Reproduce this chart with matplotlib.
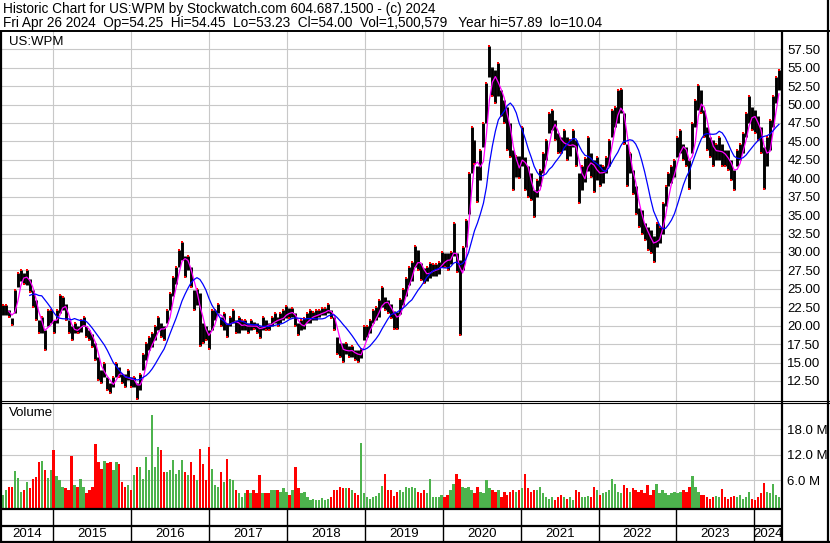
import matplotlib
matplotlib.use('Agg')
import matplotlib.pyplot as plt
import numpy as np
import pandas as pd

plt.rcParams['font.family'] = ['Liberation Sans', 'DejaVu Sans']

# two-week bars, low / high (US$)
lo = [21.4, 21.4, 21.2, 20.1, 21.7, 25.3, 26.0, 25.7, 25.5, 24.6,
      22.6, 20.8, 19.0, 19.0, 16.7, 19.9, 20.3, 19.0, 20.3, 21.7,
      22.1, 20.8, 19.0, 18.0, 19.0, 19.0, 19.2, 19.9, 18.5, 18.0,
      17.1, 15.3, 12.6, 12.2, 13.1, 11.3, 10.8, 11.7, 13.1, 13.1,
      12.2, 11.7, 12.6, 11.7, 11.7, 10.0, 11.3, 14.0, 15.3, 16.7,
      17.1, 18.0, 19.4, 18.5, 18.0, 20.3, 22.1, 24.0, 25.7, 28.0,
      28.9, 26.6, 27.5, 25.3, 22.1, 22.8, 17.2, 17.6, 18.0, 16.9,
      19.4, 20.8, 21.7, 19.9, 19.4, 18.5, 19.9, 20.3, 19.0, 19.0,
      19.4, 19.4, 19.0, 19.4, 19.6, 19.0, 18.3, 19.4, 19.4, 19.4,
      19.9, 20.3, 19.9, 20.3, 20.8, 21.0, 21.0, 21.2, 19.9, 18.7,
      19.4, 19.6, 20.3, 20.3, 20.8, 20.8, 21.2, 21.4, 21.4, 21.7,
      21.0, 19.4, 16.2, 15.8, 15.1, 16.2, 15.8, 15.8, 15.3, 15.1,
      15.6, 18.1, 18.5, 19.0, 20.3, 20.8, 21.2, 22.6, 22.1, 21.7,
      21.0, 19.6, 19.6, 21.6, 22.8, 24.0, 25.5, 26.0, 28.0, 27.5,
      26.2, 25.8, 26.0, 26.5, 26.8, 26.8, 27.0, 28.0, 28.0, 27.6,
      28.3, 29.4, 27.3, 18.7, 27.5, 30.7, 35.2, 40.7, 42.0, 36.8,
      39.8, 44.3, 47.5, 53.8, 51.1, 50.2, 51.1, 48.4, 47.5, 43.8,
      42.9, 38.4, 40.2, 40.0, 41.6, 38.4, 37.5, 37.1, 34.8, 37.5,
      38.9, 40.7, 42.5, 46.1, 46.6, 45.2, 43.4, 43.4, 43.8, 42.5,
      43.0, 44.3, 41.6, 36.6, 38.4, 39.5, 41.0, 40.2, 38.2, 39.8,
      38.9, 39.3, 40.7, 41.6, 45.6, 47.0, 47.5, 48.8, 44.7, 38.9,
      40.7, 37.9, 35.2, 33.4, 32.5, 31.6, 30.3, 29.8, 28.7, 30.7,
      31.2, 32.5, 36.2, 38.9, 39.3, 40.2, 42.9, 43.4, 42.5, 41.6,
      38.6, 43.4, 47.0, 49.3, 48.8, 45.6, 43.8, 42.9, 41.6, 42.5,
      42.5, 41.6, 41.6, 41.1, 39.8, 38.4, 41.6, 42.5, 43.4, 45.6,
      47.5, 46.6, 46.1, 45.2, 43.4, 38.6, 41.6, 43.8, 47.0, 50.2,
      52.0]
hi = [22.8, 22.8, 22.1, 21.0, 24.8, 27.1, 27.6, 27.1, 27.6, 26.4,
      24.8, 23.5, 20.8, 21.2, 19.4, 22.1, 22.1, 20.8, 22.1, 24.2,
      23.9, 23.0, 20.8, 19.9, 20.3, 19.9, 20.8, 21.2, 19.9, 19.4,
      18.9, 17.6, 15.8, 14.0, 14.9, 13.1, 12.2, 13.1, 14.9, 14.4,
      13.5, 13.5, 14.0, 13.1, 13.1, 12.2, 13.5, 16.2, 17.6, 18.5,
      19.0, 19.9, 21.2, 20.3, 20.0, 22.1, 24.4, 26.6, 28.0, 30.3,
      31.4, 29.4, 29.4, 28.0, 24.8, 25.0, 24.4, 20.3, 19.9, 19.4,
      22.1, 22.1, 23.0, 21.2, 21.7, 20.3, 21.2, 22.1, 20.8, 21.2,
      20.8, 20.8, 20.3, 20.8, 20.5, 20.3, 19.9, 21.2, 20.8, 20.3,
      21.2, 21.7, 21.2, 21.7, 22.1, 22.7, 22.4, 22.4, 21.7, 20.3,
      20.8, 21.0, 21.7, 22.1, 21.9, 22.1, 22.1, 22.4, 22.4, 23.0,
      22.1, 21.2, 18.5, 17.6, 17.6, 17.6, 17.2, 17.2, 16.7, 16.7,
      16.9, 19.9, 19.9, 20.8, 22.1, 22.6, 23.5, 25.3, 23.9, 23.5,
      23.0, 22.0, 21.8, 23.6, 25.0, 26.5, 28.0, 28.7, 30.8, 30.3,
      28.5, 27.8, 28.0, 28.5, 28.3, 28.3, 28.7, 30.0, 29.8, 29.8,
      30.0, 33.9, 29.8, 28.9, 30.7, 34.3, 40.7, 47.0, 45.2, 41.6,
      43.8, 47.5, 52.9, 57.9, 55.1, 54.7, 55.6, 52.0, 50.6, 49.7,
      47.5, 43.8, 43.0, 43.0, 47.0, 42.9, 41.6, 40.7, 38.4, 39.8,
      41.1, 43.4, 45.2, 48.8, 49.3, 47.9, 46.1, 45.6, 46.6, 45.6,
      45.2, 46.6, 45.2, 40.7, 41.6, 42.8, 45.6, 43.4, 42.5, 42.9,
      42.0, 41.6, 42.9, 45.2, 49.3, 49.7, 52.0, 52.1, 48.8, 44.7,
      43.4, 41.1, 38.9, 36.0, 35.7, 33.9, 33.4, 33.0, 32.1, 33.9,
      33.4, 36.6, 38.9, 40.7, 41.6, 42.5, 45.6, 46.6, 44.7, 44.3,
      42.5, 47.5, 50.6, 52.7, 52.0, 49.3, 47.0, 45.6, 45.2, 44.7,
      45.6, 44.7, 43.8, 43.8, 42.5, 41.1, 43.8, 44.7, 46.1, 48.8,
      51.1, 49.7, 49.3, 48.4, 47.0, 44.3, 45.6, 47.9, 51.1, 53.8,
      54.7]
# volume per bar, millions of shares
vol = [2.5, 3.7, 4.5, 4.5, 8.1, 6.6, 3.3, 3.7, 5.6, 4.1,
       6.2, 6.8, 10.3, 10.4, 8.3, 6.6, 8.5, 13.0, 6.9, 6.0,
       4.5, 4.1, 3.7, 11.6, 4.8, 4.5, 6.4, 4.5, 2.9, 3.7,
       4.5, 14.5, 10.3, 8.7, 10.4, 10.0, 10.3, 8.3, 10.3, 9.9,
       5.6, 4.5, 4.8, 3.7, 7.2, 9.1, 9.1, 6.4, 11.4, 8.3,
       21.4, 9.1, 13.8, 13.0, 7.9, 7.9, 8.3, 10.7, 7.5, 8.3,
       10.7, 7.9, 7.2, 10.3, 7.2, 6.0, 13.4, 9.7, 6.0, 13.9,
       8.7, 4.8, 4.5, 7.9, 5.6, 11.0, 6.4, 6.0, 3.7, 2.9,
       2.1, 2.9, 3.7, 2.9, 3.7, 2.9, 7.2, 2.9, 2.9, 2.9,
       3.7, 3.7, 3.7, 3.3, 4.1, 3.3, 2.5, 3.7, 9.1, 4.1,
       2.9, 3.3, 2.1, 1.4, 1.7, 1.4, 1.4, 1.9, 1.4, 1.7,
       2.1, 3.7, 3.7, 4.5, 4.1, 4.1, 4.1, 3.7, 2.9, 2.5,
       14.8, 2.9, 2.1, 1.7, 2.1, 2.3, 2.9, 4.6, 7.5, 3.7,
       3.7, 2.3, 3.3, 3.7, 3.3, 4.5, 4.1, 4.5, 4.1, 3.3,
       2.9, 3.7, 2.9, 6.4, 2.1, 2.1, 2.1, 2.5, 2.1, 2.5,
       3.7, 5.2, 7.5, 6.4, 4.5, 4.1, 4.5, 3.7, 2.9, 4.5,
       3.3, 2.9, 6.0, 4.1, 3.7, 3.3, 3.7, 2.1, 3.3, 2.5,
       3.3, 3.7, 3.3, 3.7, 4.1, 7.5, 4.1, 3.3, 3.7, 3.7,
       4.5, 2.9, 2.1, 1.7, 2.1, 1.4, 2.1, 2.5, 2.1, 1.7,
       2.1, 1.4, 3.7, 3.3, 2.1, 2.1, 2.3, 2.1, 4.5, 3.7,
       2.5, 2.9, 3.3, 3.7, 6.2, 5.2, 3.3, 2.9, 4.8, 4.1,
       3.3, 4.1, 3.7, 3.3, 3.7, 2.9, 4.8, 2.5, 3.7, 5.2,
       2.9, 3.7, 2.9, 2.5, 2.9, 3.3, 2.9, 3.3, 3.7, 3.3,
       4.5, 6.9, 4.5, 3.3, 2.5, 2.5, 2.1, 1.7, 2.1, 2.3,
       2.1, 3.9, 2.1, 1.7, 2.1, 2.3, 2.1, 2.5, 1.7, 2.1,
       3.3, 1.7, 1.4, 2.1, 2.9, 5.4, 3.3, 2.9, 5.2, 2.5,
       2.1]

price_ticks = np.arange(12.5, 57.51, 2.5)
vol_ticks = [6, 12, 18]
years = list(range(2014, 2025))

title1 = 'Historic Chart for US:WPM by Stockwatch.com 604.687.1500 - (c) 2024'
title2 = ('Fri Apr 26 2024  Op=54.25  Hi=54.45  Lo=53.23  Cl=54.00  '
          'Vol=1,500,579   Year hi=57.89  lo=10.04')

dates = pd.date_range(end='2024-04-26', periods=len(lo), freq='14D')
lo = np.array(lo)
hi = np.array(hi)
mid = pd.Series((lo + hi) / 2, index=dates)
ma_fast = mid.rolling(3).mean()
ma_slow = mid.rolling(10).mean()
up = np.r_[True, np.diff(mid.values) >= 0]

W, H = 830, 543
fig = plt.figure(figsize=(W / 100, H / 100), dpi=100)
fs = 9.5
grid_c = '#c8c8c8'
red = '#ff0000'
green = '#4db34d'

def frac(x0, y0, x1, y1):
    return [x0 / W, 1 - y1 / H, (x1 - x0) / W, (y1 - y0) / H]

ax = fig.add_axes(frac(1, 31, 781.7, 401))
axv = fig.add_axes(frac(1, 403, 781.7, 509), sharex=ax)
axd = fig.add_axes(frac(1, 509, 781.7, 541), sharex=ax)

x0 = pd.Timestamp('2014-04-30')
x1 = pd.Timestamp('2024-05-09')
year_starts = [pd.Timestamp(f'{y}-01-01') for y in years[1:]]

# price panel
ax.vlines(dates, lo, hi, color='black', linewidth=2.1, zorder=3)
ax.plot(dates[up], hi[up], 's', color=red, markersize=1.6, mew=0, zorder=4)
ax.plot(dates[~up], lo[~up], 's', color=red, markersize=1.6, mew=0, zorder=4)
ax.plot(ma_fast.index, ma_fast.values, color='#ff00ff', linewidth=0.9, zorder=5)
ax.plot(ma_slow.index, ma_slow.values, color='#0000ff', linewidth=0.9, zorder=5)
ax.set_ylim(9.78, 59.98)
ax.set_xlim(x0, x1)
ax.set_yticks(price_ticks)
ax.set_yticklabels([f'{p:.2f}' for p in price_ticks])
for p in price_ticks:
    ax.axhline(p, color=grid_c, linewidth=0.8, zorder=1)
for d in year_starts:
    ax.axvline(d, color=grid_c, linewidth=0.8, zorder=1)
ax.text(8 / 780.7, 1 - 11 / 370, 'US:WPM', transform=ax.transAxes,
        fontsize=fs, va='center', ha='left')

# volume panel
vcol = np.where(up, green, red)
axv.bar(dates, np.array(vol) + 0.74, bottom=-0.74, width=11, color=vcol,
        linewidth=0, zorder=3)
axv.set_ylim(-0.74, 24.1)
axv.set_yticks(vol_ticks)
axv.set_yticklabels([f'{v:.1f} M' for v in vol_ticks])
for v in vol_ticks:
    axv.axhline(v, color=grid_c, linewidth=0.8, zorder=1)
for d in year_starts:
    axv.axvline(d, color=grid_c, linewidth=0.8, zorder=1)
axv.text(8 / 780.7, 1 - 10 / 106, 'Volume', transform=axv.transAxes,
         fontsize=fs, va='center', ha='left')

for a in (ax, axv):
    a.yaxis.tick_right()
    a.tick_params(axis='y', length=0, pad=4, labelsize=fs)
    a.tick_params(axis='x', length=0, labelbottom=False)
    for s in a.spines.values():
        s.set_visible(False)

# date strip
axd.set_ylim(0, 1)
axd.axis('off')
for d in year_starts:
    axd.axvline(d, color='black', linewidth=1.0)
edges = [x0] + year_starts + [x1]
for y, a, b in zip(years, edges[:-1], edges[1:]):
    axd.text(a + (b - a) / 2, 0.22, str(y), ha='center', va='center', fontsize=fs)

# frame lines, in pixel space
fr = fig.add_axes([0, 0, 1, 1], zorder=10)
fr.set_xlim(0, W)
fr.set_ylim(H, 0)
fr.axis('off')
fr.patch.set_alpha(0)
k = dict(color='black', solid_capstyle='butt')
fr.plot([0, W], [31, 31], linewidth=1.4, **k)
fr.plot([0, W], [401, 401], linewidth=0.8, **k)
fr.plot([0, W], [403.2, 403.2], linewidth=0.8, **k)
fr.plot([0, 781.7], [509, 509], linewidth=1.6, **k)
fr.plot([0, 781.7], [526, 526], linewidth=1.6, **k)
fr.plot([0, W], [541.5, 541.5], linewidth=1.6, **k)
fr.plot([1, 1], [31, 541.5], linewidth=1.6, **k)
fr.plot([781.7, 781.7], [31, 541.5], linewidth=1.6, **k)
fr.plot([828, 828], [0, 541.5], linewidth=1.6, **k)
fr.text(3, 13.3, title1, fontsize=9.8, va='baseline', ha='left')
fr.text(3, 27.3, title2, fontsize=9.8, va='baseline', ha='left')

fig.savefig('out.png', dpi=100)
